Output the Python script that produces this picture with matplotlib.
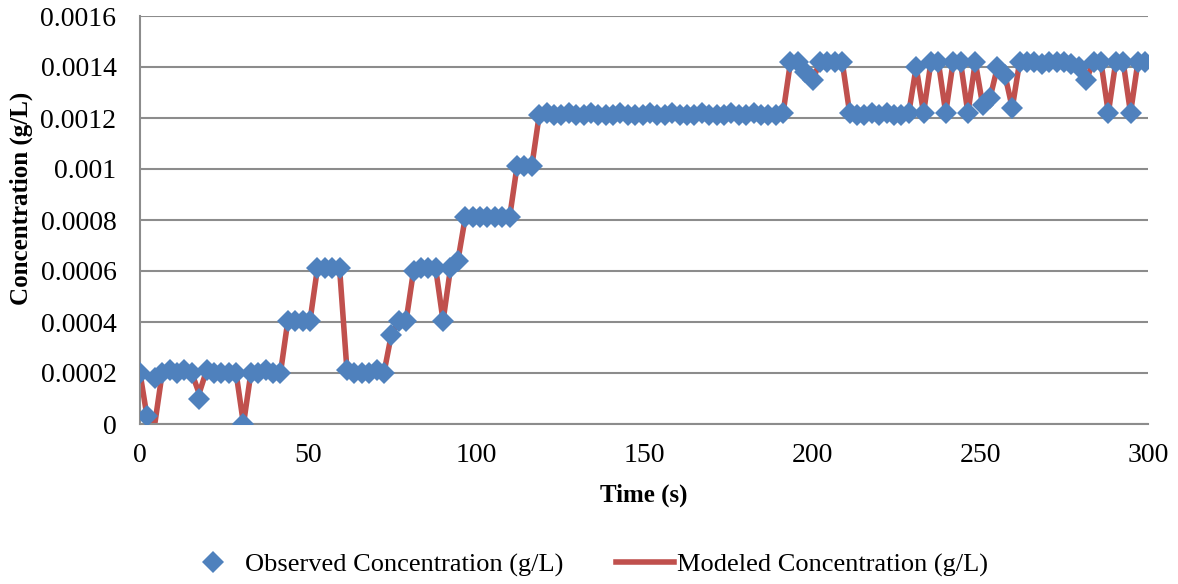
import numpy as np
import matplotlib
matplotlib.use("Agg")
import matplotlib.pyplot as plt
from matplotlib.lines import Line2D

# sample times (s), one reading every 2.2 s
time_s = np.arange(0, 300, 2.2)

observed = [
    0.00020, 0.00003, 0.00018, 0.00020, 0.00021, 0.00020, 0.00021, 0.00020, 0.00010, 0.00021,
    0.00020, 0.00020, 0.00020, 0.00020, 0.00000, 0.00020, 0.00020, 0.00021, 0.00020, 0.00020,
    0.000405, 0.000405, 0.000405, 0.000405, 0.00061, 0.00061, 0.00061, 0.00061, 0.00021, 0.00020,
    0.00020, 0.00020, 0.00021, 0.00020, 0.00035, 0.000405, 0.000405, 0.00060, 0.00061, 0.00061,
    0.00061, 0.000405, 0.00061, 0.00064, 0.00081, 0.00081, 0.00081, 0.00081, 0.00081, 0.00081,
    0.00081, 0.00101, 0.00101, 0.00101, 0.00121, 0.00122, 0.00121, 0.00121, 0.00122, 0.00121,
    0.00121, 0.00122, 0.00121, 0.00121, 0.00121, 0.00122, 0.00121, 0.00121, 0.00121, 0.00122,
    0.00121, 0.00121, 0.00122, 0.00121, 0.00121, 0.00121, 0.00122, 0.00121, 0.00121, 0.00121,
    0.00122, 0.00121, 0.00121, 0.00122, 0.00121, 0.00121, 0.00121, 0.00122, 0.00142, 0.00142,
    0.00138, 0.00135, 0.00142, 0.00142, 0.00142, 0.00142, 0.00122, 0.00121, 0.00121, 0.00122,
    0.00121, 0.00122, 0.00121, 0.00121, 0.00122, 0.00140, 0.00122, 0.00142, 0.00142, 0.00122,
    0.00142, 0.00142, 0.00122, 0.00142, 0.00125, 0.00128, 0.00140, 0.00137, 0.00124, 0.00142,
    0.00142, 0.00142, 0.00141, 0.00142, 0.00142, 0.00142, 0.00141, 0.00140, 0.00135, 0.00142,
    0.00142, 0.00122, 0.00142, 0.00142, 0.00122, 0.00142, 0.00142,
]

modeled = list(observed)
modeled[1] = 0.00002
modeled[2] = 0.0
modeled[8] = 0.00012

ytick_vals = [0, 0.0002, 0.0004, 0.0006, 0.0008, 0.001, 0.0012, 0.0014, 0.0016]
ytick_labels = ["0", "0.0002", "0.0004", "0.0006", "0.0008", "0.001", "0.0012", "0.0014", "0.0016"]
xtick_vals = [0, 50, 100, 150, 200, 250, 300]

blue = "#4F81BD"
red = "#C0504D"
grid_grey = "#8C8C8C"

plt.rcParams["font.family"] = ["Liberation Serif", "DejaVu Serif"]

fig = plt.figure(figsize=(11.78, 5.84), dpi=100)
ax = fig.add_axes([140 / 1178, 1 - 424 / 584, (1148 - 140) / 1178, (424 - 16) / 584])

ax.plot(time_s, modeled, color=red, linewidth=4, zorder=2)
ax.plot(time_s, observed, linestyle="none", marker="D", markersize=11,
        color=blue, markeredgewidth=0, zorder=3)

ax.set_xlim(0, 300)
ax.set_ylim(0, 0.0016)
ax.set_xticks(xtick_vals)
ax.set_yticks(ytick_vals)
ax.set_yticklabels(ytick_labels)
ax.tick_params(axis="both", length=0, labelsize=20, colors="black")
ax.tick_params(axis="x", pad=14)
ax.tick_params(axis="y", pad=17)

ax.yaxis.grid(True, color=grid_grey, linewidth=1.5)
ax.set_axisbelow(True)
for side in ["top", "right"]:
    ax.spines[side].set_visible(False)
for side in ["left", "bottom"]:
    ax.spines[side].set_color(grid_grey)
    ax.spines[side].set_linewidth(1.5)

ax.set_xlabel("Time (s)", fontsize=18, fontweight="bold")
ax.set_ylabel("Concentration (g/L)", fontsize=18, fontweight="bold")
ax.xaxis.set_label_coords(0.5, (424 - 484) / 408)
ax.yaxis.set_label_coords((33 - 140) / 1008, (424 - 198) / 408)

handles = [
    Line2D([], [], linestyle="none", marker="D", markersize=11, color=blue, markeredgewidth=0),
    Line2D([], [], color=red, linewidth=4),
]
fig.legend(handles, ["Observed Concentration (g/L)", "Modeled Concentration (g/L)"],
           loc="center", bbox_to_anchor=(586 / 1178, 1 - 565 / 584), ncol=2,
           frameon=False, fontsize=19, handlelength=2.2, handletextpad=0.1,
           columnspacing=2.0, borderpad=0)

fig.savefig("out.png", dpi=100)
